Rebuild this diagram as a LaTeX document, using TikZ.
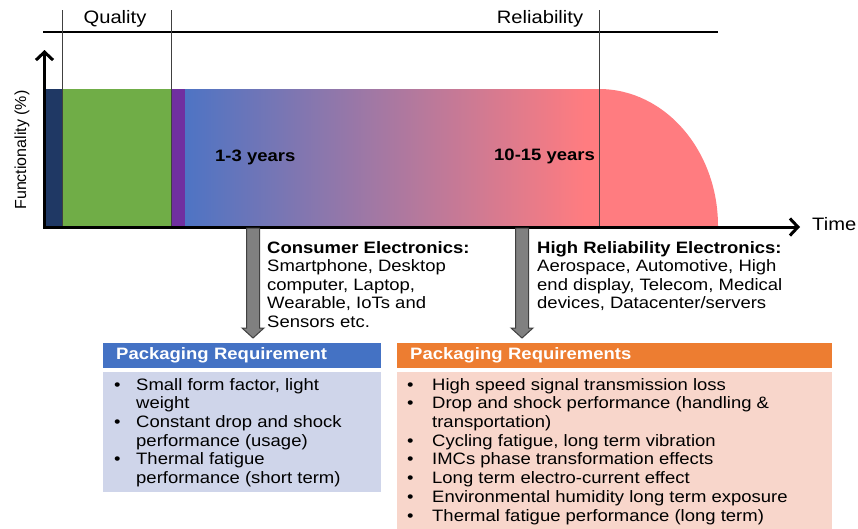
\documentclass[tikz,border=0pt]{standalone}
\usepackage{fontspec}
\setmainfont[FakeStretch=1.12]{Liberation Sans}
\newfontfamily\plainfont{Liberation Sans}
\usetikzlibrary{arrows.meta,calc}
\definecolor{cnavy}{HTML}{1F3864}
\definecolor{cgreen}{HTML}{70AD47}
\definecolor{cpurple}{HTML}{7030A0}
\definecolor{cblue}{HTML}{4E74C4}
\definecolor{csalmon}{HTML}{FF7C80}
\definecolor{hblue}{HTML}{4472C4}
\definecolor{bblue}{HTML}{CFD5EA}
\definecolor{horange}{HTML}{ED7D31}
\definecolor{borange}{HTML}{F8D6CB}
\definecolor{arrgray}{HTML}{808080}
\definecolor{arrdark}{HTML}{404040}
\begin{document}
\begin{tikzpicture}[x=1pt,y=-1pt,
  axis/.style={line width=3pt, -{Straight Barb[length=8pt,width=17pt]}},
  sep/.style={draw=arrdark, line width=1pt},
  title/.style={inner sep=0, font=\fontsize{18}{20}\selectfont},
  yrs/.style={inner sep=0, anchor=west, font=\fontsize{16.5}{18}\selectfont\bfseries},
  desc/.style={inner sep=0, anchor=north west, align=left, font=\fontsize{16.5}{18.6}\selectfont},
  hdr/.style={anchor=north west, inner xsep=13pt, inner ysep=0pt, minimum height=25pt, text=white, align=left, font=\fontsize{16.5}{18}\selectfont\bfseries},
  bodybox/.style={anchor=north west, inner sep=0, draw=none},
  bul/.style={inner sep=0, anchor=north west, align=left, font=\fontsize{16.5}{18.7}\selectfont},
  blockarrow/.style={fill=arrgray, draw=arrdark, line width=1pt, line join=miter}
]
\useasboundingbox (0,0) rectangle (858,528);

% coloured areas
\fill[cnavy] (46,89) rectangle (62,226);
\fill[cgreen] (62,89) rectangle (171,226);
\fill[cpurple] (171,89) rectangle (185,226);
\shade[left color=cblue, right color=csalmon] (185,89) rectangle (585,226);
\fill[csalmon] (584,89) -- (599,89) arc[start angle=90, end angle=0, x radius=119pt, y radius=137pt] -- (584,226) -- cycle;

% separators
\draw[line width=1.2pt] (43,32) -- (718,32);
\draw[sep] (62,10) -- (62,227);
\draw[sep] (171,10) -- (171,227);
\draw[sep] (599,10) -- (599,227);

% axes
\coordinate (origin) at (44.5,227);
\coordinate (ytip) at (44.5,50);
\coordinate (xtip) at (800,227);
\draw[axis] (origin) -- (ytip);
\draw[axis] ($(origin)+(-1.5,0)$) -- (xtip);

% labels
\node[title] (quality) at (115,19) {Quality};
\node[title] (reliab) at (540,19) {Reliability};
\node[title, anchor=west] (time) at (812,224) {Time};
\node[inner sep=0, rotate=90, font=\plainfont\fontsize{16}{18}\selectfont] (func) at (22,150) {Functionality (\%)};
\node[yrs] (y13) at (215,157) {1-3 years};
\node[yrs] (y1015) at (494,156) {10-15 years};

% descriptions
\node[desc] (cons) at (267,241) {\textbf{Consumer Electronics:}\\Smartphone, Desktop\\computer, Laptop,\\Wearable, IoTs and\\Sensors etc.};
\node[desc] (high) at (537,241) {\textbf{High Reliability Electronics:}\\Aerospace, Automotive, High\\end display, Telecom, Medical\\devices, Datacenter/servers};

% boxes
\node[hdr, fill=hblue, text width=252pt] (bhdr) at (103,343) {Packaging Requirement};
\node[bodybox, fill=bblue, minimum width=278pt, minimum height=120pt] (bbody) at (103,372) {};
\node[hdr, fill=horange, text width=409pt] (ohdr) at (397,343) {Packaging Requirements};
\node[bodybox, fill=borange, minimum width=435pt, minimum height=157pt] (obody) at (397,372) {};

\node[bul] (blist) at (113,378) {%
\makebox[23pt][l]{\hspace{1pt}•}Small form factor, light\\
\hspace*{23pt}weight\\
\makebox[23pt][l]{\hspace{1pt}•}Constant drop and shock\\
\hspace*{23pt}performance (usage)\\
\makebox[23pt][l]{\hspace{1pt}•}Thermal fatigue\\
\hspace*{23pt}performance (short term)};

\node[bul] (olist) at (406,378) {%
\makebox[26pt][l]{\hspace{1pt}•}High speed signal transmission loss\\
\makebox[26pt][l]{\hspace{1pt}•}Drop and shock performance (handling \&\\
\hspace*{26pt}transportation)\\
\makebox[26pt][l]{\hspace{1pt}•}Cycling fatigue, long term vibration\\
\makebox[26pt][l]{\hspace{1pt}•}IMCs phase transformation effects\\
\makebox[26pt][l]{\hspace{1pt}•}Long term electro-current effect\\
\makebox[26pt][l]{\hspace{1pt}•}Environmental humidity long term exposure\\
\makebox[26pt][l]{\hspace{1pt}•}Thermal fatigue performance (long term)};

% block arrows
\coordinate (a1s) at (253,228);
\coordinate (a1e) at (253,338);
\coordinate (a2s) at (522,228);
\coordinate (a2e) at (522,338);
\draw[blockarrow] ($(a1s)+(-6.5,0)$) -- ($(a1s)+(6.5,0)$) -- ($(a1e)+(6.5,-10)$) -- ($(a1e)+(11,-10)$) -- (a1e) -- ($(a1e)+(-11,-10)$) -- ($(a1e)+(-6.5,-10)$) -- cycle;
\draw[blockarrow] ($(a2s)+(-6.5,0)$) -- ($(a2s)+(6.5,0)$) -- ($(a2e)+(6.5,-10)$) -- ($(a2e)+(11,-10)$) -- (a2e) -- ($(a2e)+(-11,-10)$) -- ($(a2e)+(-6.5,-10)$) -- cycle;
\end{tikzpicture}
\end{document}
